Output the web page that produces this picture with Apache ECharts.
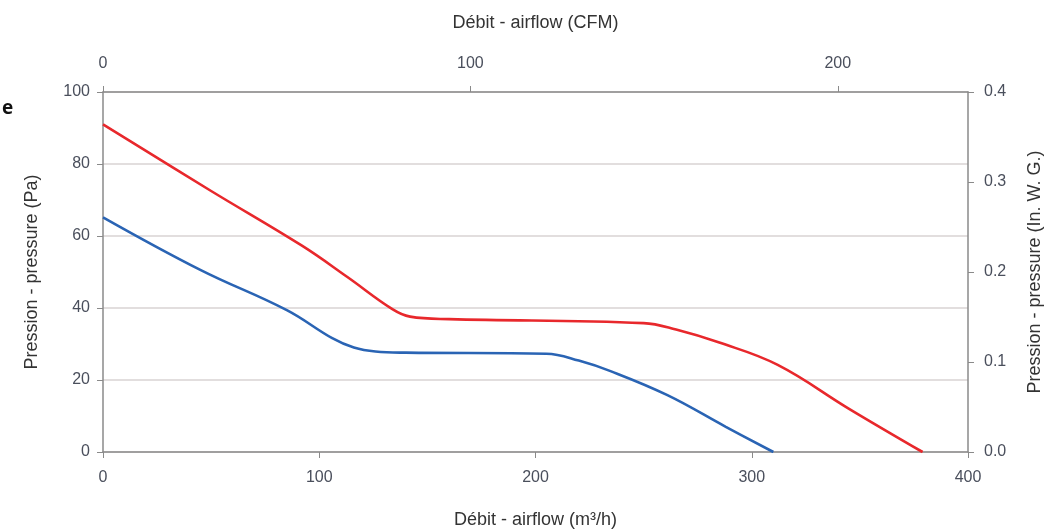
<!DOCTYPE html>
<html>
<head>
<meta charset="utf-8">
<script src="https://cdn.jsdelivr.net/npm/echarts@6/dist/echarts.min.js"></script>
<style>
html,body{margin:0;padding:0;background:#fff;}
#chart{width:1049px;height:529px;}
</style>
</head>
<body>
<div id="chart"></div>
<script>
// Airflow (m³/h) vs pressure (Pa)
const redCurve = [[0,91],[50,72.5],[92,57.3],[113,48.6],[134,39.6],[142,37.6],[160,36.9],[250,35.8],[265,34],[285,30.4],[312,24.2],[345,12],[379,0]];
const blueCurve = [[0,65.2],[45,50.6],[85,39.4],[106,31.6],[116,29],[126,27.9],[140,27.6],[205,27.3],[220,25.4],[235,22.4],[261,15.8],[288,7],[310,0]];
const m3hMax = 400;
const cfmPerM3h = 1 / 1.699;
const paMax = 100;
const inwgMax = 0.4;
const titleBottom = 'Débit - airflow (m³/h)';
const titleTop = 'Débit - airflow (CFM)';
const titleLeft = 'Pression - pressure (Pa)';
const titleRight = 'Pression - pressure (In. W. G.)';

const tickFont = "'Liberation Sans Narrow','Liberation Sans',sans-serif";
const titleFont = "'Liberation Sans',sans-serif";
const labelStyle = {color:'#4a4f5c', fontSize:16, fontFamily:tickFont};
const nameStyle = {color:'#333', fontSize:18, fontFamily:titleFont};
const axisLine = {show:true, onZero:false, lineStyle:{color:'#8a8a8a', width:1.5}};
const axisTick = {show:true, inside:false, length:6, lineStyle:{color:'#8a8a8a'}};

const chart = echarts.init(document.getElementById('chart'), null, {renderer:'canvas'});
chart.setOption({
  animation:false,
  backgroundColor:'#fff',
  grid:{left:103, right:81, top:92, bottom:77, containLabel:false, outerBoundsMode:'none'},
  graphic:[{type:'text', left:2, top:99, style:{text:'e', fontSize:19, fontWeight:'bold', fill:'#111', fontFamily:"'Open Sans',sans-serif"}}],
  xAxis:[
    {type:'value', position:'bottom', min:0, max:m3hMax, interval:100,
     name:titleBottom, nameLocation:'middle', nameGap:59, nameTextStyle:nameStyle,
     axisLine:axisLine, axisTick:axisTick, splitLine:{show:false},
     axisLabel:Object.assign({margin:18}, labelStyle)},
    {type:'value', position:'top', min:0, max:m3hMax*cfmPerM3h, interval:100,
     name:titleTop, nameLocation:'middle', nameGap:60, nameTextStyle:nameStyle,
     axisLine:axisLine, axisTick:axisTick, splitLine:{show:false},
     axisLabel:Object.assign({margin:20, showMaxLabel:false}, labelStyle)}
  ],
  yAxis:[
    {type:'value', position:'left', min:0, max:paMax, interval:20,
     name:titleLeft, nameLocation:'middle', nameGap:62, nameTextStyle:nameStyle,
     axisLine:axisLine, axisTick:axisTick,
     splitLine:{show:true, lineStyle:{color:'#d9d3d3', width:1.5}},
     axisLabel:Object.assign({margin:13}, labelStyle)},
    {type:'value', position:'right', min:0, max:inwgMax, interval:0.1,
     name:titleRight, nameLocation:'middle', nameGap:58, nameTextStyle:nameStyle,
     axisLine:axisLine, axisTick:axisTick, splitLine:{show:false},
     axisLabel:Object.assign({margin:16, formatter:v=>v.toFixed(1)}, labelStyle)}
  ],
  series:[
    {type:'line', xAxisIndex:0, yAxisIndex:0, data:redCurve, smooth:0.4, showSymbol:false,
     lineStyle:{color:'#e8282c', width:2.6}},
    {type:'line', xAxisIndex:0, yAxisIndex:0, data:blueCurve, smooth:0.4, showSymbol:false,
     lineStyle:{color:'#2a64b4', width:2.6}}
  ]
});
</script>
</body>
</html>
